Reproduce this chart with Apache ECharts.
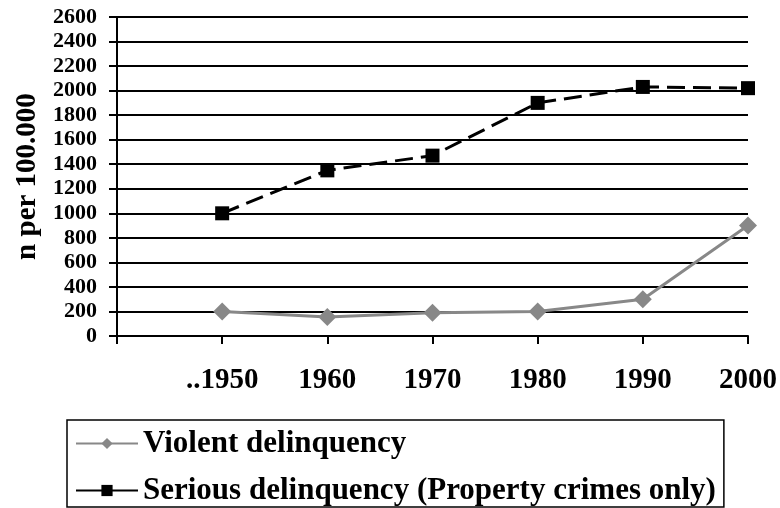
<!DOCTYPE html>
<html>
<head>
<meta charset="utf-8">
<script src="https://cdn.jsdelivr.net/npm/echarts@6/dist/echarts.min.js"></script>
<style>
  html, body { margin: 0; padding: 0; background: #fff; }
  #chart { width: 780px; height: 508px; }
</style>
</head>
<body>
<div id="chart"></div>
<script>
var years = ['', '..1950', '1960', '1970', '1980', '1990', '2000']
var violent = ['-', 200, 155, 190, 200, 300, 900]
var serious = ['-', 1000, 1350, 1470, 1900, 2030, 2020]

var font = 'Liberation Serif'
var chart = echarts.init(document.getElementById('chart'))
var option = {
  animation: false,
  backgroundColor: '#fff',
  grid: { left: 117, right: 32, top: 17, bottom: 172 },
  xAxis: {
    type: 'category',
    data: years,
    boundaryGap: false,
    axisLine: { lineStyle: { color: '#000', width: 2 } },
    axisTick: { show: true, length: 8, alignWithLabel: true, lineStyle: { color: '#000', width: 2 } },
    axisLabel: { color: '#000', fontFamily: font, fontWeight: 'bold', fontSize: 29, margin: 30 },
    splitLine: { show: false }
  },
  yAxis: {
    type: 'value',
    min: 0,
    max: 2600,
    interval: 200,
    name: 'n per 100.000',
    nameLocation: 'middle',
    nameGap: 70,
    nameTextStyle: { color: '#000', fontFamily: font, fontWeight: 'bold', fontSize: 29 },
    axisLine: { show: true, lineStyle: { color: '#000', width: 2 } },
    axisTick: { show: true, length: 8, lineStyle: { color: '#000', width: 2 } },
    axisLabel: {
      color: '#000', fontFamily: font, fontWeight: 'bold', fontSize: 22, margin: 20,
      formatter: function (v) { return String(v) }
    },
    splitLine: { lineStyle: { color: '#000', width: 2 } }
  },
  legend: {
    orient: 'vertical',
    left: 67,
    top: 420,
    padding: [8, 8, 1, 8],
    itemGap: 16,
    itemWidth: 62,
    itemHeight: 14,
    borderColor: '#000',
    borderWidth: 1.5,
    textStyle: { color: '#000', fontFamily: font, fontWeight: 'bold', fontSize: 31, lineHeight: 31 },
    data: [
      { name: 'Violent delinquency' },
      { name: 'Serious delinquency (Property crimes only)', lineStyle: { type: 'solid' } }
    ]
  },
  series: [
    {
      name: 'Violent delinquency',
      type: 'line',
      data: violent,
      color: '#888',
      symbol: 'diamond',
      symbolSize: 18,
      lineStyle: { color: '#888', width: 3 },
      itemStyle: { color: '#888' }
    },
    {
      name: 'Serious delinquency (Property crimes only)',
      type: 'line',
      data: serious,
      color: '#000',
      symbol: 'rect',
      symbolSize: 14,
      lineStyle: { color: '#000', width: 3, type: [18, 8] },
      itemStyle: { color: '#000' }
    }
  ]
}
chart.setOption(option)
</script>
</body>
</html>
